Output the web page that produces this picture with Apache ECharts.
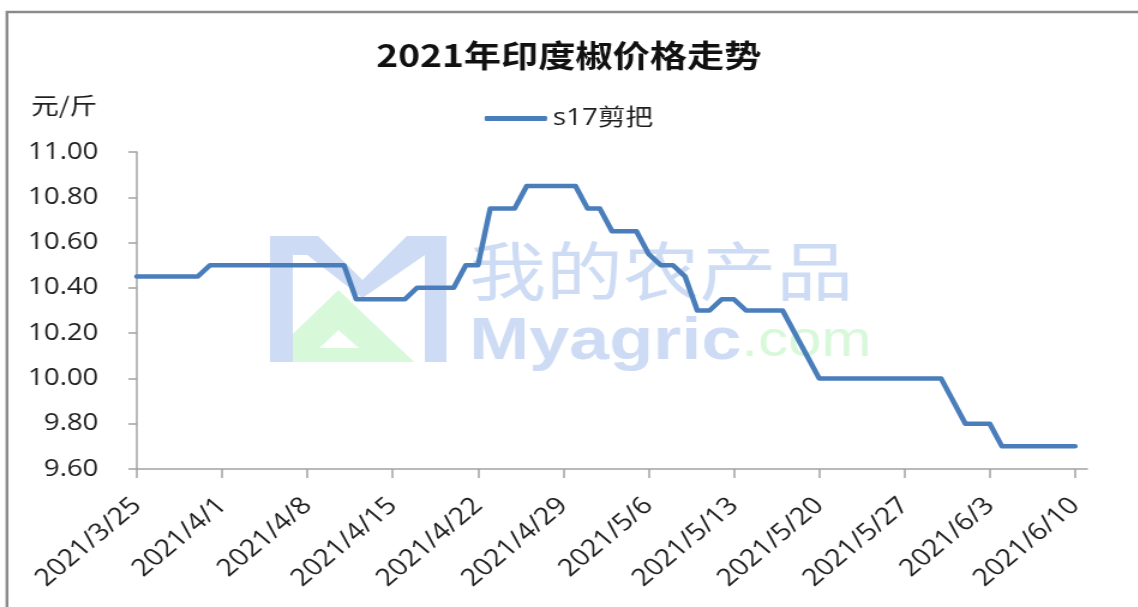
<!DOCTYPE html>
<html>
<head>
<meta charset="utf-8">
<script src="https://cdn.jsdelivr.net/npm/echarts@6/dist/echarts.min.js"></script>
<style>
  html, body { margin: 0; padding: 0; background: #fff; overflow: hidden; }
  /* the source picture is a horizontally stretched Excel chart */
  #chart { width: 948px; height: 607px; transform: scaleX(1.2); transform-origin: 0 0; }
</style>
</head>
<body>
<div id="chart"></div>
<script>
// daily categories 2021/3/25 .. 2021/6/11
const START = new Date(2021, 2, 25)
const DAYS = []
for (let i = 0; i < 79; i++) {
  const d = new Date(START.getTime() + i * 86400000)
  DAYS.push(d.getFullYear() + '/' + (d.getMonth() + 1) + '/' + d.getDate())
}

// s17剪把 price, 元/斤
const S17 = [
  10.45, 10.45, 10.45, 10.45, 10.45, 10.45,
  10.50, 10.50, 10.50, 10.50, 10.50, 10.50, 10.50, 10.50, 10.50, 10.50, 10.50, 10.50,
  10.35, 10.35, 10.35, 10.35, 10.35,
  10.40, 10.40, 10.40, 10.40,
  10.50, 10.50,
  10.75, 10.75, 10.75,
  10.85, 10.85, 10.85, 10.85, 10.85,
  10.75, 10.75,
  10.65, 10.65, 10.65,
  10.55,
  10.50, 10.50,
  10.45,
  10.30, 10.30,
  10.35, 10.35,
  10.30, 10.30, 10.30, 10.30,
  10.20, 10.10,
  10.00, 10.00, 10.00, 10.00, 10.00, 10.00, 10.00, 10.00, 10.00, 10.00, 10.00,
  9.90,
  9.80, 9.80, 9.80,
  9.70, 9.70, 9.70, 9.70, 9.70, 9.70, 9.70,
  null
]

const Y_MIN = 9.6
const Y_MAX = 11.0
const Y_STEP = 0.2

const LINE_BLUE = '#4a7ebb'
const AXIS_GRAY = '#a3a3a3'
const TEXT = '#1e1e1e'
const NUM_FONT = '"Open Sans", "Noto Sans CJK SC", sans-serif'
const CJK_FONT = '"Noto Sans CJK SC", sans-serif'
const WM_BLUE = '#cddcf4'
const WM_GREEN = '#d8f8da'

const chart = echarts.init(document.getElementById('chart'), null, { renderer: 'canvas' })

chart.setOption({
  backgroundColor: '#fff',
  animation: false,
  title: {
    text: '2021年印度椒价格走势',
    left: 'center',
    top: 40,
    padding: 0,
    textStyle: { fontFamily: CJK_FONT, fontSize: 31, fontWeight: 'bold', color: '#111' }
  },
  legend: {
    data: ['s17剪把'],
    left: 'center',
    top: 107,
    padding: 0,
    icon: 'roundRect',
    itemWidth: 52,
    itemHeight: 5,
    textStyle: { fontFamily: NUM_FONT, fontSize: 23, color: TEXT }
  },
  grid: { left: 114, right: 42, top: 152, bottom: 138, containLabel: false },
  xAxis: {
    type: 'category',
    data: DAYS,
    boundaryGap: false,
    axisLine: { lineStyle: { color: AXIS_GRAY, width: 1.5 } },
    axisTick: { interval: 6, length: 9, lineStyle: { color: AXIS_GRAY, width: 1.5 } },
    axisLabel: {
      interval: 6,
      rotate: 45,
      margin: 33,
      fontFamily: NUM_FONT,
      fontSize: 24,
      color: TEXT
    },
    splitLine: { show: false }
  },
  yAxis: {
    type: 'value',
    min: Y_MIN,
    max: Y_MAX,
    interval: Y_STEP,
    name: '元/斤',
    nameLocation: 'end',
    nameGap: 47,
    nameTextStyle: {
      fontFamily: CJK_FONT, fontSize: 23, color: TEXT,
      align: 'right', verticalAlign: 'middle', padding: [0, 33, 0, 0]
    },
    axisLine: { show: true, lineStyle: { color: AXIS_GRAY, width: 1.5 } },
    axisTick: { show: true, length: 7, lineStyle: { color: AXIS_GRAY, width: 1.5 } },
    axisLabel: {
      margin: 32,
      fontFamily: NUM_FONT,
      fontSize: 23,
      color: TEXT,
      formatter: v => v.toFixed(2)
    },
    splitLine: { show: false }
  },
  graphic: [
    // outer frame
    { type: 'rect', z: 0, shape: { x: 5.8, y: 12, width: 1000, height: 700 },
      style: { fill: 'none', stroke: '#8a8a8a', lineWidth: 2.4 } },
    // watermark logo
    { type: 'polygon', z: 0, shape: { points: [
        [225, 236], [265, 236], [302, 280], [339, 236], [372, 236], [372, 362],
        [354, 362], [354, 255], [302, 298], [256, 255], [244, 255], [244, 362], [225, 362]
      ] }, style: { fill: WM_BLUE } },
    { type: 'polygon', z: 0, shape: { points: [[244, 334], [282, 290], [345, 362], [244, 362]] },
      style: { fill: WM_GREEN } },
    { type: 'polygon', z: 0, shape: { points: [[266, 348], [282, 330], [299, 348]] },
      style: { fill: '#fff' } },
    // watermark words
    { type: 'text', z: 0, x: 391, y: 271,
      style: { text: '我的农产品', fill: WM_BLUE, font: '64px "Noto Sans CJK SC"',
        textAlign: 'left', textVerticalAlign: 'middle' } },
    { type: 'text', z: 0, x: 391, y: 342,
      style: {
        text: '{a|Myagric}{b|.com}',
        textAlign: 'left', textVerticalAlign: 'middle',
        rich: {
          a: { fill: WM_BLUE, fontFamily: '"Liberation Sans"', fontSize: 60, fontWeight: 'bold' },
          b: { fill: WM_GREEN, fontFamily: '"Liberation Sans"', fontSize: 50 }
        }
      } }
  ],
  series: [{
    name: 's17剪把',
    type: 'line',
    data: S17,
    z: 10,
    showSymbol: false,
    symbol: 'none',
    color: LINE_BLUE,
    lineStyle: { color: LINE_BLUE, width: 4.5, cap: 'round', join: 'round' }
  }]
})
</script>
</body>
</html>
